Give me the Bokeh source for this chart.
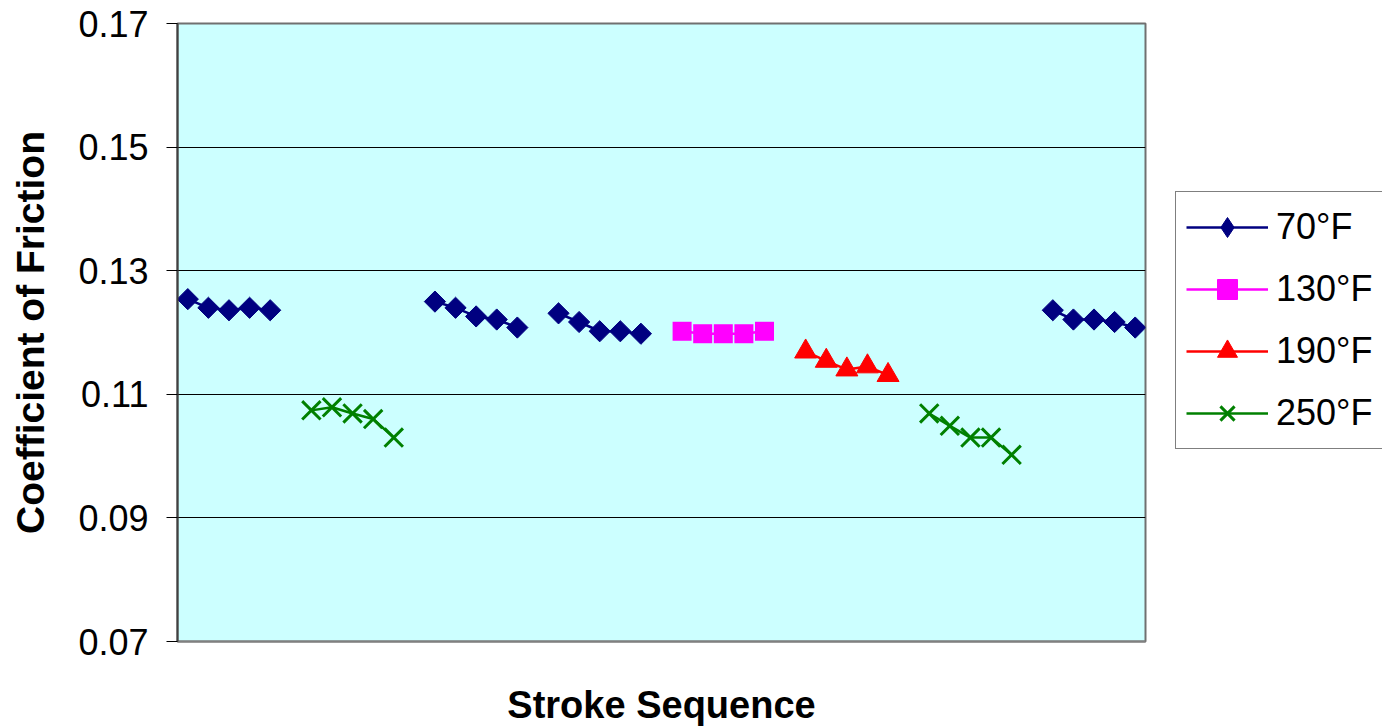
from math import pi
from bokeh.plotting import figure
from bokeh.layouts import row
from bokeh.models import FixedTicker, Legend, LegendItem, Range1d
from bokeh.embed import file_html
from bokeh.resources import INLINE

N = float("nan")

# Stroke positions (47 category slots, blanks between runs)
stroke = list(range(47))

# Coefficient of friction per series (NaN = blank cell)
cof_70 = ([0.1254, 0.1240, 0.1236, 0.1240, 0.1236] + [N] * 7 +
          [0.1250, 0.1240, 0.1226, 0.1221, 0.1208] + [N] +
          [0.1231, 0.1217, 0.1202, 0.1202, 0.1198] + [N] * 19 +
          [0.1236, 0.1221, 0.1221, 0.1217, 0.1208])
cof_130 = [N] * 24 + [0.1202, 0.1198, 0.1198, 0.1198, 0.1202] + [N] * 18
cof_190 = [N] * 30 + [0.1169, 0.1154, 0.1140, 0.1145, 0.1131] + [N] * 12
cof_250 = ([N] * 6 + [0.1074, 0.1079, 0.1069, 0.1060, 0.1030] + [N] * 25 +
           [0.1069, 0.1049, 0.1030, 0.1030, 0.1002] + [N] * 6)

series_names = ["70°F", "130°F", "190°F", "250°F"]
series_colors = ["#000080", "#FF00FF", "#FF0000", "#008000"]
y_ticks = [0.07, 0.09, 0.11, 0.13, 0.15, 0.17]

FONT = "Liberation Sans"

p = figure(width=1147, height=728, output_backend="svg", toolbar_location=None,
           x_range=Range1d(-0.5, 46.5), y_range=Range1d(0.07, 0.17),
           min_border_left=177, min_border_right=2, min_border_top=23,
           min_border_bottom=86)

p.border_fill_color = "white"
p.background_fill_color = "#CCFFFF"
p.outline_line_color = "#707070"
p.outline_line_width = 2

# y axis
p.yaxis.ticker = FixedTicker(ticks=y_ticks)
p.yaxis.major_label_overrides = {t: f"{t:.2f}" for t in y_ticks}
p.yaxis.major_label_text_font = FONT
p.yaxis.major_label_text_font_size = "36px"
p.yaxis.major_label_text_color = "black"
p.yaxis.major_label_standoff = 18
p.yaxis.major_tick_out = 11
p.yaxis.major_tick_in = 0
p.yaxis.minor_tick_line_color = None
p.yaxis.major_tick_line_color = "black"
p.yaxis.axis_line_color = "#404040"
p.yaxis.axis_line_width = 2
p.yaxis.axis_label = "Coefficient of Friction"
p.yaxis.axis_label_text_font = FONT
p.yaxis.axis_label_text_font_style = "bold"
p.yaxis.axis_label_text_font_size = "39px"
p.yaxis.axis_label_text_color = "black"
p.yaxis.axis_label_standoff = 23

# x axis
p.xaxis.ticker = FixedTicker(ticks=[])
p.xaxis.major_tick_line_color = None
p.xaxis.minor_tick_line_color = None
p.xaxis.major_label_text_font_size = "0px"
p.xaxis.axis_line_color = "#808080"
p.xaxis.axis_line_width = 2
p.xaxis.axis_label = "Stroke Sequence"
p.xaxis.axis_label_text_font = FONT
p.xaxis.axis_label_text_font_style = "bold"
p.xaxis.axis_label_text_font_size = "38px"
p.xaxis.axis_label_text_color = "black"
p.xaxis.axis_label_standoff = 42

p.xgrid.grid_line_color = None
p.ygrid.grid_line_color = "black"
p.ygrid.grid_line_width = 1

c = series_colors
p.line(stroke, cof_70, line_color=c[0], line_width=2.5)
p.scatter(stroke, cof_70, marker="square", angle=pi / 4, size=15,
          fill_color=c[0], line_color=c[0])
p.line(stroke, cof_130, line_color=c[1], line_width=2.5)
p.scatter(stroke, cof_130, marker="square", size=19, fill_color=c[1], line_color=None)
p.line(stroke, cof_190, line_color=c[2], line_width=2.5)
p.scatter(stroke, cof_190, marker="triangle", size=22, fill_color=c[2], line_color=c[2])
p.line(stroke, cof_250, line_color=c[3], line_width=2.5)
p.scatter(stroke, cof_250, marker="x", size=26, line_color=c[3], line_width=3)

# Legend panel (separate figure so the key can sit outside the plot area)
q = figure(width=235, height=728, output_backend="svg", toolbar_location=None,
           x_range=Range1d(0, 1), y_range=Range1d(0, 1),
           min_border_left=0, min_border_right=0, min_border_top=0,
           min_border_bottom=0)
q.axis.visible = False
q.grid.grid_line_color = None
q.outline_line_color = None
q.background_fill_color = "white"
q.border_fill_color = "white"

markers = [("diamond", 28, 1), ("square", 20, 1), ("triangle", 24, 1), ("x", 26, 3)]
items = []
for name, col, (mk, sz, lw) in zip(series_names, c, markers):
    ln = q.line([N], [N], line_color=col, line_width=2.5)
    if mk == "x":
        sc = q.scatter([N], [N], marker=mk, size=sz, line_color=col, line_width=lw)
    else:
        sc = q.scatter([N], [N], marker=mk, size=sz, fill_color=col, line_color=col)
    items.append(LegendItem(label=name, renderers=[ln, sc]))

legend = Legend(items=items, location=(28, 192))
legend.label_text_font = FONT
legend.label_text_font_size = "36px"
legend.label_text_color = "black"
legend.border_line_color = "black"
legend.border_line_width = 1
legend.background_fill_color = "white"
legend.background_fill_alpha = 1
legend.glyph_width = 82
legend.glyph_height = 50
legend.label_height = 50
legend.label_standoff = 8
legend.spacing = 12
legend.padding = 10
legend.margin = 0
q.add_layout(legend, "center")

layout = row(p, q, spacing=0)
open("out.html", "w").write(file_html(layout, INLINE))
